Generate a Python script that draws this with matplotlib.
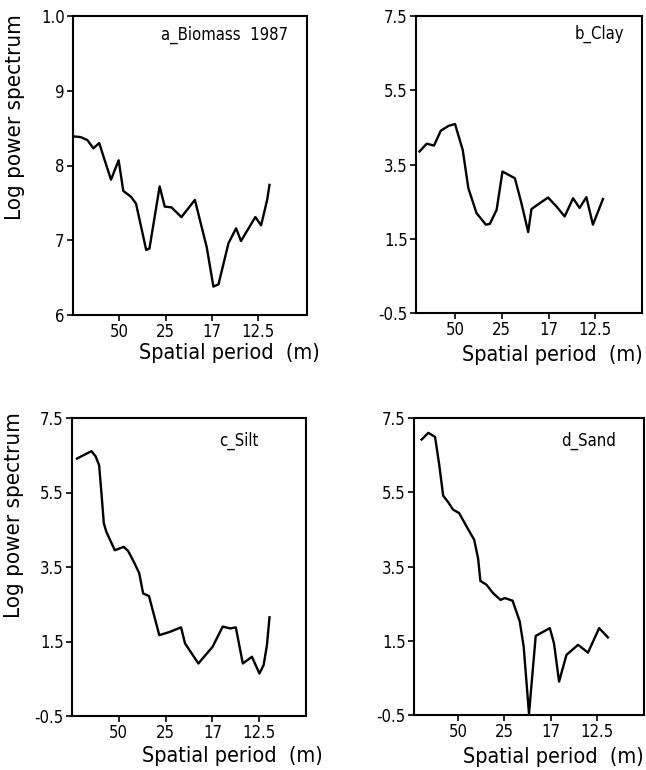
import matplotlib
matplotlib.use('Agg')
import matplotlib.pyplot as plt

# spatial frequency (cycles per 100 m) vs log power
biomass_f = [0, 0.33, 0.62, 0.88, 1.13, 1.64, 1.97, 2.17, 2.51, 2.72, 3.16, 3.3, 3.74, 3.96,
             4.25, 4.68, 5.26, 5.77, 6.06, 6.28, 6.71, 7.04, 7.25, 7.87, 8.12, 8.38, 8.48]
biomass_p = [8.39, 8.38, 8.34, 8.23, 8.30, 7.81, 8.07, 7.66, 7.58, 7.49, 6.87, 6.89, 7.72, 7.45,
             7.44, 7.31, 7.54, 6.91, 6.38, 6.41, 6.96, 7.16, 6.99, 7.31, 7.20, 7.54, 7.74]

clay_f = [0.48, 0.79, 1.10, 1.39, 1.72, 2.0, 2.33, 2.57, 2.92, 3.32, 3.49, 3.78, 4.03, 4.56,
          4.84, 5.13, 5.27, 5.63, 5.98, 6.34, 6.69, 7.05, 7.33, 7.62, 7.90, 8.33]
clay_p = [3.85, 4.06, 4.01, 4.41, 4.54, 4.59, 3.89, 2.86, 2.19, 1.88, 1.90, 2.28, 3.31, 3.13,
          2.46, 1.68, 2.30, 2.46, 2.61, 2.37, 2.10, 2.59, 2.33, 2.62, 1.88, 2.57]

silt_f = [0.21, 0.83, 1.01, 1.16, 1.26, 1.36, 1.47, 1.83, 2.21, 2.4, 2.64, 2.87, 3.04, 3.29,
          3.73, 4.19, 4.66, 4.83, 5.40, 6.01, 6.44, 6.76, 7.0, 7.3, 7.69, 8.01, 8.19, 8.33, 8.44]
silt_p = [6.41, 6.61, 6.47, 6.23, 5.47, 4.67, 4.44, 3.95, 4.04, 3.93, 3.64, 3.34, 2.79, 2.72,
          1.67, 1.76, 1.88, 1.45, 0.91, 1.36, 1.90, 1.85, 1.88, 0.91, 1.09, 0.64, 0.87, 1.40, 2.15]

sand_f = [0.42, 0.71, 1.0, 1.18, 1.35, 1.57, 1.78, 2.04, 2.36, 2.69, 2.86, 2.96, 3.22, 3.51,
          3.83, 4.01, 4.35, 4.66, 4.83, 5.06, 5.35, 5.96, 6.14, 6.36, 6.68, 7.18, 7.61, 8.09, 8.47]
sand_p = [6.92, 7.10, 6.99, 6.24, 5.41, 5.23, 5.03, 4.94, 4.58, 4.22, 3.72, 3.11, 3.01, 2.78,
          2.60, 2.65, 2.58, 2.02, 1.34, -0.47, 1.63, 1.84, 1.43, 0.40, 1.12, 1.39, 1.18, 1.84, 1.59]

xticks = [2, 4, 6, 8]
xticklabels = ['50', '25', '17', '12.5']
yticks_a = [6, 7, 8, 9, 10]
yticklabels_a = ['6', '7', '8', '9', '1.0']
yticks_soil = [-0.5, 1.5, 3.5, 5.5, 7.5]
yticklabels_soil = ['-0.5', '1.5', '3.5', '5.5', '7.5']

plt.rcParams['font.family'] = ['DejaVu Sans']
plt.rcParams['font.stretch'] = 'condensed'

W, H = 646, 770
fig = plt.figure(figsize=(W / 100, H / 100), dpi=100)


def box(l, r, t, b):
    return [l / W, 1 - b / H, (r - l) / W, (b - t) / H]


def panel(rect, f, p, xlim, yticks, ylabs, title, tpos):
    ax = fig.add_axes(rect)
    ax.plot(f, p, color='k', lw=1.7)
    ax.set_xlim(*xlim)
    ax.set_ylim(yticks[0], yticks[-1])
    ax.set_xticks(xticks)
    ax.set_xticklabels(xticklabels)
    ax.set_yticks(yticks)
    ax.set_yticklabels(ylabs)
    ax.tick_params(direction='out', length=4, width=1.2, labelsize=12, pad=2)
    for s in ax.spines.values():
        s.set_linewidth(1.5)
    fig.text(tpos[0] / W, 1 - tpos[1] / H, title, fontsize=12, ha='right', va='center')
    return ax


panel(box(73, 307, 16, 315), biomass_f, biomass_p, (0, 10.1), yticks_a, yticklabels_a,
      'a_Biomass  1987', (288, 35))
panel(box(416, 642, 16, 313), clay_f, clay_p, (0.33, 10), yticks_soil, yticklabels_soil,
      'b_Clay', (624, 34))
panel(box(72, 306, 418, 716), silt_f, silt_p, (0, 10), yticks_soil, yticklabels_soil,
      'c_Silt', (259, 441))
panel(box(414, 644, 418, 715), sand_f, sand_p, (0.09, 10.03), yticks_soil, yticklabels_soil,
      'd_Sand', (616, 441))

# axis titles
for x, y in [(320, 353), (643, 355), (323, 756), (644, 757)]:
    fig.text(x / W, 1 - y / H, 'Spatial period  (m)', fontsize=15.5, ha='right', va='center')
for x, y in [(15, 117), (14, 515)]:
    fig.text(x / W, 1 - y / H, 'Log power spectrum', fontsize=16, rotation=90,
             ha='center', va='center')

fig.savefig('out.png', dpi=100)
